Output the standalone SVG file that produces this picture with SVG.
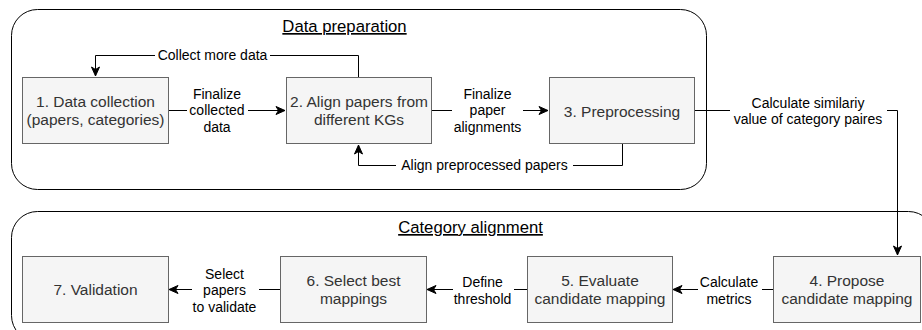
<svg xmlns="http://www.w3.org/2000/svg" width="922" height="330" viewBox="0 0 922 330">
<style>
.cont{fill:none;stroke:#000;stroke-width:1}
.box{fill:#f5f5f5;stroke:#666;stroke-width:1}
.bt{font-family:"Liberation Sans",Arial,sans-serif;font-size:15.5px;fill:#333;text-anchor:middle}
.lt{font-family:"Liberation Sans",Arial,sans-serif;font-size:14px;fill:#000;text-anchor:middle}
.tt{font-family:"Liberation Sans",Arial,sans-serif;font-size:16.7px;fill:#000;text-anchor:middle;text-decoration:underline}
.ln{fill:none;stroke:#000;stroke-width:1}
.bg{fill:#fff;stroke:none}
</style>
<defs>
<marker id="arr" markerUnits="userSpaceOnUse" markerWidth="11" markerHeight="10" refX="10" refY="5" orient="auto">
<path d="M1,1 L10,5 L1,9 L3.5,5 Z" fill="#000" stroke="#000" stroke-width="1"/>
</marker>
</defs>
<g id="container-data-preparation">
<rect class="cont" x="11.5" y="9.5" width="695" height="180" rx="26" ry="26"/>
<text class="tt" x="344.5" y="32">Data preparation</text>
</g>
<g id="container-category-alignment">
<rect class="cont" x="11.5" y="211.5" width="923" height="130" rx="26" ry="26"/>
<text class="tt" x="470.5" y="233">Category alignment</text>
</g>
<g id="connectors">
<path class="ln" d="M169,110.5 H285" marker-end="url(#arr)"/>
<rect class="bg" x="187" y="84" width="61" height="52"/>
<text class="lt" x="217" y="98.5">Finalize</text>
<text class="lt" x="217" y="115">collected</text>
<text class="lt" x="217" y="131.5">data</text>

<path class="ln" d="M358.5,77 V55.5 H95.5 V76" marker-end="url(#arr)"/>
<rect class="bg" x="155" y="47" width="115" height="17"/>
<text class="lt" x="212.5" y="60">Collect more data</text>

<path class="ln" d="M432,110.5 H548" marker-end="url(#arr)"/>
<rect class="bg" x="452" y="84" width="71" height="52"/>
<text class="lt" x="487.5" y="98.5">Finalize</text>
<text class="lt" x="487.5" y="115">paper</text>
<text class="lt" x="487.5" y="131.5">alignments</text>

<path class="ln" d="M622.5,144 V165.5 H358.5 V145" marker-end="url(#arr)"/>
<rect class="bg" x="396" y="157" width="177" height="17"/>
<text class="lt" x="484.5" y="170">Align preprocessed papers</text>

<path class="ln" d="M695,110.5 H897.5 V255" marker-end="url(#arr)"/>
<rect class="bg" x="730" y="95" width="157" height="34"/>
<text class="lt" x="808" y="107.5">Calculate similariy</text>
<text class="lt" x="808" y="124">value of category paires</text>

<path class="ln" d="M773,289.5 H673" marker-end="url(#arr)"/>
<rect class="bg" x="698" y="272" width="64" height="36"/>
<text class="lt" x="729" y="287">Calculate</text>
<text class="lt" x="729" y="303.5">metrics</text>

<path class="ln" d="M527,289.5 H427" marker-end="url(#arr)"/>
<rect class="bg" x="453" y="272" width="61" height="36"/>
<text class="lt" x="482.5" y="287">Define</text>
<text class="lt" x="482.5" y="303.5">threshold</text>

<path class="ln" d="M280,289.5 H169" marker-end="url(#arr)"/>
<rect class="bg" x="192" y="264" width="67" height="52"/>
<text class="lt" x="224.5" y="278.5">Select</text>
<text class="lt" x="224.5" y="295">papers</text>
<text class="lt" x="224.5" y="311.5">to validate</text>
</g>
<g id="node-1">
<rect class="box" x="22.5" y="77.5" width="146" height="66"/>
<text class="bt" x="95.5" y="107">1. Data collection</text>
<text class="bt" x="95.5" y="125">(papers, categories)</text>
</g>
<g id="node-2">
<rect class="box" x="286.5" y="77.5" width="145" height="66"/>
<text class="bt" x="359" y="107">2. Align papers from</text>
<text class="bt" x="359" y="125">different KGs</text>
</g>
<g id="node-3">
<rect class="box" x="549.5" y="77.5" width="145" height="66"/>
<text class="bt" x="622" y="116.5">3. Preprocessing</text>
</g>
<g id="node-4">
<rect class="box" x="773.5" y="256.5" width="147" height="66"/>
<text class="bt" x="847" y="286">4. Propose</text>
<text class="bt" x="847" y="304">candidate mapping</text>
</g>
<g id="node-5">
<rect class="box" x="527.5" y="256.5" width="145" height="66"/>
<text class="bt" x="600" y="286">5. Evaluate</text>
<text class="bt" x="600" y="304">candidate mapping</text>
</g>
<g id="node-6">
<rect class="box" x="280.5" y="256.5" width="146" height="66"/>
<text class="bt" x="353.5" y="286">6. Select best</text>
<text class="bt" x="353.5" y="304">mappings</text>
</g>
<g id="node-7">
<rect class="box" x="22.5" y="256.5" width="146" height="66"/>
<text class="bt" x="95.5" y="295">7. Validation</text>
</g>
</svg>
